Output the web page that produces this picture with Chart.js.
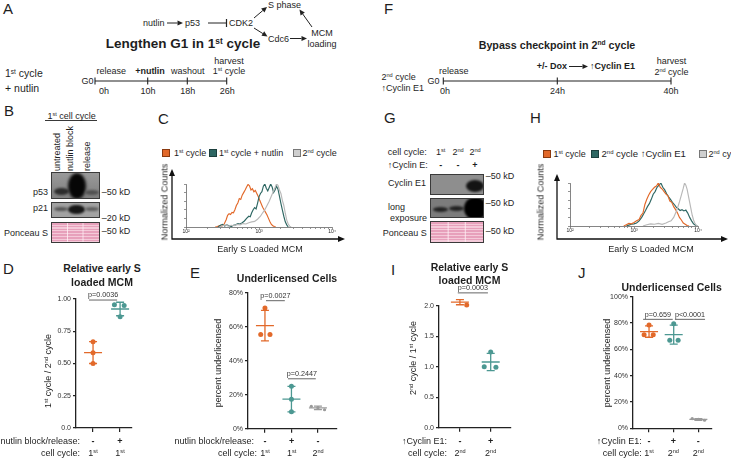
<!DOCTYPE html>
<html><head><meta charset="utf-8">
<script src="https://cdn.jsdelivr.net/npm/chart.js@4.4.1/dist/chart.umd.min.js"></script>
<style>
html,body{margin:0;padding:0;background:#fff}
body{width:731px;height:458px;position:relative;overflow:hidden;font-family:"Liberation Sans",Arial,Helvetica,sans-serif;color:#1e1e1e}
.t{position:absolute;white-space:nowrap;line-height:1}
.t sup{font-size:0.62em;vertical-align:0.5em;line-height:0}
canvas{position:absolute}
.box{position:absolute;overflow:hidden;box-sizing:border-box;border:1px solid #3a3a3a}
.band{position:absolute;border-radius:50%}
.sq{position:absolute;width:8px;height:8px;box-sizing:border-box;border:1px solid #555}
svg{position:absolute;left:0;top:0}
</style></head><body>
<svg id="sv" width="731" height="458"></svg>
<script>
// ---------------- DATA ----------------
// Panel C: flow histograms (x = log10 early-S loaded MCM, y = normalized counts)
const C_first_x  = [2.40,2.43,2.46,2.49,2.52,2.55,2.57,2.59,2.61,2.63,2.65,2.67,2.69,2.71,2.73,2.75,2.77,2.79,2.81,2.83,2.85,2.87,2.89,2.91,2.93,2.95,2.97,2.99,3.01,3.03,3.05,3.07,3.09,3.11,3.13,3.15,3.17,3.19,3.21,3.23];
const C_first_y  = [0,0.01,0.03,0.02,0.06,0.17,0.27,0.31,0.29,0.34,0.33,0.40,0.50,0.56,0.66,0.64,0.74,0.80,0.86,0.93,0.99,0.96,0.86,0.89,0.82,0.85,0.78,0.71,0.62,0.54,0.46,0.40,0.34,0.28,0.20,0.12,0.06,0.03,0.01,0];
const C_nutlin_x = [2.44,2.47,2.50,2.53,2.56,2.59,2.62,2.65,2.68,2.71,2.74,2.77,2.80,2.83,2.86,2.88,2.90,2.92,2.94,2.96,2.98,3.00,3.02,3.04,3.06,3.08,3.10,3.12,3.14,3.16,3.18,3.20,3.22,3.24,3.26,3.28,3.30,3.32,3.34,3.36,3.38,3.40];
const C_nutlin_y = [0,0.04,0.06,0.02,0.05,0.03,0.01,0.04,0.05,0.08,0.07,0.10,0.14,0.20,0.25,0.24,0.33,0.40,0.45,0.42,0.55,0.70,0.78,0.82,0.95,1.00,0.90,0.84,0.92,1.00,0.93,0.80,0.86,0.95,0.88,0.72,0.55,0.40,0.25,0.12,0.05,0];
const C_second_x = [2.46,2.50,2.54,2.58,2.62,2.66,2.70,2.74,2.78,2.82,2.86,2.90,2.94,2.98,3.02,3.05,3.08,3.11,3.14,3.17,3.20,3.22,3.24,3.26,3.28,3.30,3.32,3.34,3.36,3.38,3.40,3.42,3.44];
const C_second_y = [0,0.03,0.05,0.02,0.04,0.03,0.06,0.05,0.08,0.07,0.10,0.12,0.13,0.18,0.25,0.33,0.40,0.50,0.60,0.72,0.84,0.92,1.00,0.97,0.86,0.78,0.62,0.50,0.32,0.16,0.07,0.02,0];
// Panel H
const H_first_x  = [2.84,2.88,2.92,2.96,3.00,3.04,3.08,3.11,3.14,3.17,3.20,3.23,3.26,3.29,3.32,3.35,3.38,3.41,3.44,3.47,3.50,3.53,3.56,3.59,3.62,3.65,3.68,3.71,3.74,3.77,3.80,3.83,3.86];
const H_first_y  = [0,0.03,0.06,0.05,0.08,0.12,0.15,0.25,0.30,0.50,0.62,0.72,0.80,0.85,0.90,0.93,1.00,0.90,0.86,0.80,0.74,0.70,0.58,0.55,0.45,0.38,0.30,0.20,0.14,0.07,0.04,0.01,0];
const H_cycE_x   = [2.88,2.92,2.96,3.00,3.04,3.08,3.12,3.15,3.18,3.21,3.24,3.27,3.30,3.33,3.36,3.39,3.42,3.45,3.48,3.51,3.54,3.57,3.60,3.63,3.66,3.69,3.72,3.75,3.78,3.81,3.84,3.87,3.90,3.93,3.96,3.99];
const H_cycE_y   = [0,0.02,0.04,0.05,0.07,0.12,0.20,0.28,0.36,0.45,0.52,0.62,0.74,0.80,0.90,0.95,1.00,0.90,0.84,0.75,0.68,0.62,0.55,0.50,0.44,0.40,0.36,0.38,0.35,0.37,0.30,0.20,0.12,0.05,0.02,0];
const H_second_x = [3.14,3.20,3.26,3.32,3.38,3.44,3.50,3.54,3.58,3.62,3.65,3.68,3.71,3.74,3.77,3.79,3.81,3.83,3.85,3.87,3.89,3.91,3.93,3.95,3.97,3.99];
const H_second_y = [0,0.03,0.05,0.04,0.06,0.04,0.07,0.10,0.12,0.20,0.30,0.42,0.56,0.72,0.88,1.00,0.95,0.85,0.70,0.55,0.40,0.25,0.14,0.07,0.02,0];
const hist_tickLabels = {2:'10²',3:'10³',4:'10⁴'};

// Panel D: relative early S loaded MCM (1st cycle / 2nd cycle)
const D_release_minus = [0.669,0.584,0.500];
const D_release_plus  = [0.955,0.950,0.862];
const D_tickLabels = ['0.0','0.25','0.50','0.75','1.00'];
// Panel E: percent underlicensed
const E_first  = [71.0,55.5,55.5];
const E_nutlin = [25.0,17.3,10.0];
const E_second = [13.2,12.4,11.2];
const E_tickLabels = ['0%','20%','40%','60%','80%'];
// Panel I: 2nd cycle / 1st cycle
const I_control = [2.090,2.075,2.010];
const I_cycE    = [1.240,1.000,0.990];
const I_tickLabels = ['0.0','0.5','1.0','1.5','2.0'];
// Panel J: percent underlicensed
const J_first  = [78.5,71.0,71.0];
const J_cycE   = [79.5,67.0,67.0];
const J_second = [7.4,6.8,6.1];
const J_tickLabels = ['0%','20%','40%','60%','80%','100%'];
// p values
const D_p = ['p=0.0036'];
const E_p = ['p=0.0027','p=0.2447'];
const I_p = ['p=0.0003'];
const J_p = ['p=0.659','p<0.0001'];

// ---------------- STYLE ----------------
const ORANGE='#E2692A', TEAL='#4C9892', TEALD='#2E6763', GRAY='#9a9a9a', HGRAY='#B8B8B8';
Chart.defaults.font.family='"Liberation Sans", Arial, sans-serif';
Chart.defaults.font.size=7;
Chart.defaults.color='#222';
Chart.defaults.animation=false;
Chart.defaults.events=[];
Chart.defaults.plugins.legend.display=false;
Chart.defaults.plugins.tooltip.enabled=false;

function T(x,y,h,o){o=o||{};const d=document.createElement('div');d.className='t';d.innerHTML=h;
  d.style.left=x+'px';d.style.top=y+'px';d.style.fontSize=(o.s||9)+'px';if(o.b)d.style.fontWeight='bold';
  if(o.rot){ if(o.a==='l'){d.style.transformOrigin='0 50%';d.style.transform='translate(0,-50%) rotate(-90deg)';}
             else {d.style.transformOrigin='50% 50%';d.style.transform='translate(-50%,-50%) rotate(-90deg)';} }
  else {const tx=o.a==='c'?-50:o.a==='r'?-100:0;d.style.transform='translate('+tx+'%,-50%)';}
  document.body.appendChild(d);return d;}
function mkCanvas(x,y,w,h){const c=document.createElement('canvas');c.width=w;c.height=h;c.style.left=x+'px';c.style.top=y+'px';c.style.width=w+'px';c.style.height=h+'px';document.body.appendChild(c);return c;}

// ---------------- HISTOGRAMS ----------------
const logTicks=[];for(let d=2;d<4;d++){for(let k=1;k<10;k++)logTicks.push(d+Math.log10(k));}logTicks.push(4);
function outerArrows(o){return {id:'oa',afterDraw(ch){const a=ch.chartArea,ctx=ch.ctx;
  const x=a.left-o.dl,y=a.bottom+o.db,xt=a.right+o.dr,yt=a.top-o.dt;
  ctx.save();ctx.strokeStyle='#111';ctx.fillStyle='#111';ctx.lineWidth=1.3;
  ctx.beginPath();ctx.moveTo(x-0.6,y);ctx.lineTo(xt-5,y);ctx.moveTo(x,y);ctx.lineTo(x,yt+5);ctx.stroke();
  ctx.beginPath();ctx.moveTo(xt,y);ctx.lineTo(xt-7,y-3);ctx.lineTo(xt-7,y+3);ctx.closePath();ctx.fill();
  ctx.beginPath();ctx.moveTo(x,yt);ctx.lineTo(x-3,yt+7);ctx.lineTo(x+3,yt+7);ctx.closePath();ctx.fill();
  ctx.restore();}};}
function histChart(box,area,series,arr){
  const c=mkCanvas(box.x,box.y,box.w,box.h);
  return new Chart(c,{type:'scatter',
    data:{datasets:series.map(s=>({data:s.x.map((v,i)=>({x:v,y:s.y[i]})),showLine:true,pointRadius:0,borderColor:s.color,borderWidth:1.15,fill:false,tension:0}))},
    options:{responsive:false,devicePixelRatio:1,
      layout:{autoPadding:false,padding:{left:0,top:area.top-box.y,right:box.x+box.w-area.right,bottom:0}},
      scales:{
        x:{type:'linear',min:2,max:4,afterFit:s=>{s.height=box.y+box.h-area.bottom;},
           afterBuildTicks:s=>{s.ticks=logTicks.map(v=>({value:v}));},
           ticks:{autoSkip:false,maxRotation:0,font:{size:5},padding:0,callback:v=>{const r=Math.round(v);return Math.abs(v-r)<1e-6?hist_tickLabels[r]:'';}},
           grid:{drawOnChartArea:false,tickLength:2,color:'#666',lineWidth:0.7},border:{color:'#666',width:0.8}},
        y:{type:'linear',min:0,max:1,afterFit:s=>{s.width=area.left-box.x;},
           ticks:{display:false,stepSize:0.2},
           grid:{drawOnChartArea:false,tickLength:2,color:'#666',lineWidth:0.7},border:{color:'#666',width:0.8}}
      }},
    plugins:[outerArrows(arr)]});
}
histChart({x:160,y:160,w:200,h:95},{left:186,top:184,right:332,bottom:227},
  [{x:C_second_x,y:C_second_y,color:HGRAY},{x:C_nutlin_x,y:C_nutlin_y,color:TEALD},{x:C_first_x,y:C_first_y,color:ORANGE}],
  {dl:14,db:12,dr:13,dt:15});
histChart({x:535,y:160,w:196,h:95},{left:570,top:183,right:698,bottom:226},
  [{x:H_second_x,y:H_second_y,color:HGRAY},{x:H_first_x,y:H_first_y,color:ORANGE},{x:H_cycE_x,y:H_cycE_y,color:TEALD}],
  {dl:13,db:13,dr:30,dt:9});

// ---------------- DOT PLOTS ----------------
function dotChart(box,area,xr,ymax,ystep,labels,groups,sigs){
  const c=mkCanvas(box.x,box.y,box.w,box.h);
  const ebPlugin={id:'eb',beforeDatasetsDraw(ch){const xs=ch.scales.x,ys=ch.scales.y,ctx=ch.ctx;ctx.save();ctx.lineWidth=1.3;
    groups.forEach(g=>{const n=g.vals.length,m=g.vals.reduce((a,b)=>a+b,0)/n,sd=Math.sqrt(g.vals.reduce((a,b)=>a+(b-m)*(b-m),0)/(n-1));
      const x=xs.getPixelForValue(g.i),yt=ys.getPixelForValue(m+sd),yb=ys.getPixelForValue(m-sd),ym=ys.getPixelForValue(m);
      ctx.strokeStyle=g.color;ctx.beginPath();ctx.moveTo(x,yt);ctx.lineTo(x,yb);
      ctx.moveTo(x-4,yt);ctx.lineTo(x+4,yt);ctx.moveTo(x-4,yb);ctx.lineTo(x+4,yb);
      ctx.moveTo(x-9,ym);ctx.lineTo(x+9,ym);ctx.stroke();});
    ctx.restore();},
    afterDatasetsDraw(ch){const xs=ch.scales.x,ys=ch.scales.y,ctx=ch.ctx;ctx.save();
      sigs.forEach(s=>{const x1=xs.getPixelForValue(s.a),x2=xs.getPixelForValue(s.b),y=ys.getPixelForValue(s.y);
        ctx.strokeStyle='#666';ctx.lineWidth=1;ctx.beginPath();ctx.moveTo(x1,y);ctx.lineTo(x2,y);ctx.stroke();
        ctx.fillStyle='#333';ctx.font='7.2px "Liberation Sans", Arial, sans-serif';ctx.textAlign='center';ctx.textBaseline='bottom';
        ctx.fillText(s.t,(x1+x2)/2,y-1);});
      ctx.restore();}};
  return new Chart(c,{type:'scatter',
    data:{datasets:groups.map(g=>({data:g.vals.map((v,i)=>({x:g.i+g.jit[i],y:v})),pointRadius:g.r||2.5,pointBackgroundColor:g.color,pointBorderWidth:0,clip:false}))},
    options:{responsive:false,devicePixelRatio:1,
      layout:{autoPadding:false,padding:{left:0,top:area.top-box.y,right:box.x+box.w-area.right,bottom:0}},
      scales:{
        x:{type:'linear',min:xr[0],max:xr[1],afterFit:s=>{s.height=box.y+box.h-area.bottom;},
           afterBuildTicks:s=>{s.ticks=groups.map(g=>({value:g.i}));},
           ticks:{display:false},grid:{drawOnChartArea:false,tickLength:4,color:'#222',lineWidth:1.2},border:{color:'#222',width:1.3}},
        y:{type:'linear',min:0,max:ymax,afterFit:s=>{s.width=area.left-box.x;},
           ticks:{stepSize:ystep,padding:2,font:{size:7},color:'#333',callback:(v,i)=>labels[Math.round(v/ystep)]},
           grid:{drawOnChartArea:false,tickLength:3,color:'#222',lineWidth:1.2},border:{color:'#222',width:1.3}}
      }},
    plugins:[ebPlugin]});
}
dotChart({x:36,y:285,w:104,h:150},{left:76,top:299,right:132,bottom:428},[-0.63,1.44],1,0.25,D_tickLabels,
  [{i:0,vals:D_release_minus,jit:[0,0,0],color:ORANGE},{i:1,vals:D_release_plus,jit:[-0.21,0.15,0],color:TEAL}],
  [{a:-0.15,b:0.89,y:0.992,t:D_p[0]}]);
dotChart({x:200,y:285,w:145,h:150},{left:248,top:292.7,right:337,bottom:429},[-0.64,2.72],80,20,E_tickLabels,
  [{i:0,vals:E_first,jit:[0,-0.16,0.19],color:ORANGE},{i:1,vals:E_nutlin,jit:[0,0,0],color:TEAL},{i:2,vals:E_second,jit:[-0.25,0,0.25],color:GRAY,r:1.6}],
  [{a:0.04,b:0.75,y:75.3,t:E_p[0]},{a:0.87,b:1.92,y:29.4,t:E_p[1]}]);
dotChart({x:400,y:280,w:120,h:155},{left:439,top:305.7,right:510.7,bottom:427.7},[-0.68,1.65],2,0.5,I_tickLabels,
  [{i:0,vals:I_control,jit:[-0.22,0,0.22],color:ORANGE},{i:1,vals:I_cycE,jit:[0,-0.21,0.17],color:TEAL}],
  [{a:-0.07,b:0.91,y:2.21,t:I_p[0]}]);
dotChart({x:590,y:290,w:135,h:145},{left:633,top:296.7,right:711.7,bottom:428.3},[-0.65,2.54],100,20,J_tickLabels,
  [{i:0,vals:J_first,jit:[0,-0.2,0.17],color:ORANGE},{i:1,vals:J_cycE,jit:[0,-0.16,0.18],color:TEAL},{i:2,vals:J_second,jit:[-0.25,0,0.25],color:GRAY,r:1.6}],
  [{a:-0.24,b:0.96,y:82.8,t:J_p[0]},{a:1.05,b:2.27,y:82.8,t:J_p[1]}]);

// ---------------- DIAGRAM LINES ----------------
let svg='';
function ln(x1,y1,x2,y2,w){svg+=`<line x1="${x1}" y1="${y1}" x2="${x2}" y2="${y2}" stroke="#222" stroke-width="${w||1}"/>`;}
function arrow(x1,y1,x2,y2){const dx=x2-x1,dy=y2-y1,L=Math.hypot(dx,dy),ux=dx/L,uy=dy/L,hl=5.5,hw=2.6;
  const bx=x2-ux*hl,by=y2-uy*hl;ln(x1,y1,bx,by,1);
  svg+=`<polygon points="${x2},${y2} ${bx-uy*hw},${by+ux*hw} ${bx+uy*hw},${by-ux*hw}" fill="#222"/>`;}
// A pathway
arrow(167,23,183,23); ln(208,23,226.5,23,1); ln(226.5,19,226.5,27,1.2);
arrow(254,18,267,7); arrow(254,28,267.5,36.5); arrow(290,38.5,307,38.5); arrow(312,27,299.5,9.5);
// A timeline
ln(95,81,226.7,81,1.1); [95,147.7,187.3,226.7].forEach(x=>ln(x,77.5,x,84.5,1.1));
// F timeline
ln(443.3,81,671,81,1.1); [443.3,557.3,671].forEach(x=>ln(x,77.5,x,84.5,1.1));
arrow(569,66.5,588,66.5);
// B header underline
ln(45,120.5,97,120.5,0.9);
document.getElementById('sv').innerHTML=svg;

// ---------------- BLOTS ----------------
function box(x,y,w,h,bg){const d=document.createElement('div');d.className='box';Object.assign(d.style,{left:x+'px',top:y+'px',width:w+'px',height:h+'px',background:bg});document.body.appendChild(d);return d;}
function band(p,x,y,w,h,col,bl){const b=document.createElement('div');b.className='band';Object.assign(b.style,{left:x+'px',top:y+'px',width:w+'px',height:h+'px',background:col,filter:'blur('+(bl||1)+'px)'});p.appendChild(b);}
const PONC='linear-gradient(to right,rgba(255,255,255,0) 31%,rgba(255,240,245,.8) 33%,rgba(255,255,255,0) 35%,rgba(255,255,255,0) 64%,rgba(255,240,245,.8) 66%,rgba(255,255,255,0) 68%),repeating-linear-gradient(to bottom,#E7A0BB 0px,#E7A0BB 1.6px,#F4CAD9 1.6px,#F4CAD9 2.8px)';
let b1=box(50.7,172.3,49.3,26.7,'linear-gradient(#9a9a9a,#7e7e7e)');
band(b1,2,15,15,7,'#2c2c2c',1);band(b1,16,0,18,26,'#060606',1.6);band(b1,33,17,14,5,'#505050',1);
let b2=box(50.7,201.7,49.3,16.6,'#a2a2a2');
band(b2,2,4.5,14,4,'#555',0.8);band(b2,16,2,17,9,'#161616',1);band(b2,33,4.5,14,4,'#5e5e5e',0.8);
box(50.7,221.7,49.3,21.6,PONC);
let g1=box(430,174.3,54.3,20.7,'#8e8e8e');
band(g1,35,4.5,18,12,'#141414',1.2);
let g2=box(430,197.7,54.3,20.6,'#7c7c7c');
band(g2,2,8,15,5,'#222',0.9);band(g2,18,7,15,5,'#222',0.9);band(g2,33,-2,23,23,'#000',1.2);
box(430,221,54.3,22,PONC);

// ---------------- TEXT ----------------
// panel letters
[['A',3,8],['B',4,110],['C',158,118],['D',3,268],['E',190,272],['F',384,8],['G',384,117],['H',530,117],['I',391,269],['J',578,272]]
  .forEach(l=>T(l[1],l[2],l[0],{s:15}));
// A
T(143,23,'nutlin');T(185,23,'p53');T(229,23,'CDK2');T(268,5,'S phase');T(268,38.5,'Cdc6');
T(322,33,'MCM',{a:'c'});T(322,44,'loading',{a:'c'});
T(183,43.5,'Lengthen G1 in 1<sup>st</sup> cycle',{b:1,s:13.5,a:'c'});
T(5,73,'1<sup>st</sup> cycle',{s:10.5});T(5,87.5,'+ nutlin',{s:10.5});
T(93.5,81,'G0',{a:'r'});
T(96.5,71,'release');T(150,71,'+nutlin',{b:1,a:'c'});T(187.7,71,'washout',{a:'c'});
T(229,61,'harvest',{a:'c'});T(229,71,'1<sup>st</sup> cycle',{a:'c'});
T(99,91,'0h');T(148,91,'10h',{a:'c'});T(187.7,91,'18h',{a:'c'});T(227.3,91,'26h',{a:'c'});
// F
T(557,44.5,'Bypass checkpoint in 2<sup>nd</sup> cycle',{b:1,s:10.7,a:'c'});
T(381.5,77,'2<sup>nd</sup> cycle');T(381.5,87.5,'↑Cyclin E1');
T(439.5,81,'G0',{a:'r'});T(439,71,'release');T(440,91,'0h');T(557.5,91,'24h',{a:'c'});T(671,91,'40h',{a:'c'});
T(536.7,66,'+/- Dox',{b:1});T(590,66,'↑Cyclin E1',{b:1});
T(671.5,61,'harvest',{a:'c'});T(671.5,72,'2<sup>nd</sup> cycle',{a:'c'});
// B
T(71.7,115.5,'1<sup>st</sup> cell cycle',{a:'c'});
T(56.7,171,'untreated',{rot:1,a:'l'});T(70,171,'nutlin block',{rot:1,a:'l'});T(87.3,171,'release',{rot:1,a:'l'});
T(48,191.7,'p53',{a:'r'});T(48,208.3,'p21',{a:'r'});T(48,233,'Ponceau S',{a:'r'});
T(101.7,191.7,'–50 kD');T(101.7,218.3,'–20 kD');T(101.7,230.7,'–50 kD');
// G
T(387.7,152.3,'cell cycle:');T(440.7,152.3,'1<sup>st</sup>',{a:'c'});T(458,152.3,'2<sup>nd</sup>',{a:'c'});T(475,152.3,'2<sup>nd</sup>',{a:'c'});
T(387.7,165,'↑Cyclin E:');T(440.7,165,'-',{a:'c',b:1});T(458,165,'-',{a:'c',b:1});T(475,165,'+',{a:'c',b:1});
T(388,183.3,'Cyclin E1');T(388,206.7,'long');T(390,217.5,'exposure');T(426.7,233,'Ponceau S',{a:'r'});
T(485.7,176,'–50 kD');T(485.7,203,'–50 kD');T(485.7,231,'–50 kD');
// C legend & axis titles
function sq(x,y,c,bc){const d=document.createElement('div');d.className='sq';d.style.left=x+'px';d.style.top=y+'px';d.style.background=c;d.style.borderColor=bc;document.body.appendChild(d);}
sq(162,148.5,ORANGE,'#8a3a10');T(174,152.5,'1<sup>st</sup> cycle');
sq(209,148.5,TEALD,'#1c3f3d');T(219,152.5,'1<sup>st</sup> cycle + nutlin');
sq(292.5,148.5,'#cfcfcf','#777');T(302.5,152.5,'2<sup>nd</sup> cycle');
T(164.5,202,'Normalized Counts',{rot:1});T(260,249,'Early S Loaded MCM',{a:'c'});
// H legend & axis titles
sq(542.5,149.5,ORANGE,'#8a3a10');T(553.5,153.5,'1<sup>st</sup> cycle');
sq(591,149.5,TEALD,'#1c3f3d');T(601.5,153.5,'2<sup>nd</sup> cycle ↑Cyclin E1',{s:9.6});
sq(698.5,149.5,'#cfcfcf','#777');T(708.5,153.5,'2<sup>nd</sup> cycle');
T(541,202,'Normalized Counts',{rot:1});T(651,249.3,'Early S Loaded MCM',{a:'c'});
// D
T(102,268,'Relative early S',{b:1,s:10.5,a:'c'});T(102,281.5,'loaded MCM',{b:1,s:10.5,a:'c'});
T(48,371,'1<sup>st</sup> cycle / 2<sup>nd</sup> cycle',{rot:1});
T(80,440.5,'nutlin block/release:',{a:'r'});T(93,440.5,'-',{a:'c',b:1});T(120,440.5,'+',{a:'c',b:1});
T(80,452.5,'cell cycle:',{a:'r'});T(93,452.5,'1<sup>st</sup>',{a:'c'});T(120,452.5,'1<sup>st</sup>',{a:'c'});
// E
T(287,278,'Underlicensed Cells',{b:1,s:10.5,a:'c'});
T(218,363,'percent underlicensed',{rot:1});
T(254,441,'nutlin block/release:',{a:'r'});T(265,441,'-',{a:'c',b:1});T(291.7,441,'+',{a:'c',b:1});T(318,441,'-',{a:'c',b:1});
T(257,452.7,'cell cycle:',{a:'r'});T(265,452.7,'1<sup>st</sup>',{a:'c'});T(291.7,452.7,'1<sup>st</sup>',{a:'c'});T(318,452.7,'2<sup>nd</sup>',{a:'c'});
// I
T(469.5,266.7,'Relative early S',{b:1,s:10.5,a:'c'});T(469.5,279.5,'loaded MCM',{b:1,s:10.5,a:'c'});
T(413,358,'2<sup>nd</sup> cycle / 1<sup>st</sup> cycle',{rot:1});
T(447,440.7,'↑Cyclin E1:',{a:'r'});T(460,440.7,'-',{a:'c',b:1});T(490.7,440.7,'+',{a:'c',b:1});
T(447,452.7,'cell cycle:',{a:'r'});T(460,452.7,'2<sup>nd</sup>',{a:'c'});T(490.7,452.7,'2<sup>nd</sup>',{a:'c'});
// J
T(671.7,287.3,'Underlicensed Cells',{b:1,s:10.5,a:'c'});
T(607,362.7,'percent underlicensed',{rot:1});
T(641.7,440.7,'↑Cyclin E1:',{a:'r'});T(649,440.7,'-',{a:'c',b:1});T(673.3,440.7,'+',{a:'c',b:1});T(698.3,440.7,'-',{a:'c',b:1});
T(641.7,452.5,'cell cycle:',{a:'r'});T(649,452.5,'1<sup>st</sup>',{a:'c'});T(673.3,452.5,'2<sup>nd</sup>',{a:'c'});T(698.3,452.5,'2<sup>nd</sup>',{a:'c'});
</script></body></html>
